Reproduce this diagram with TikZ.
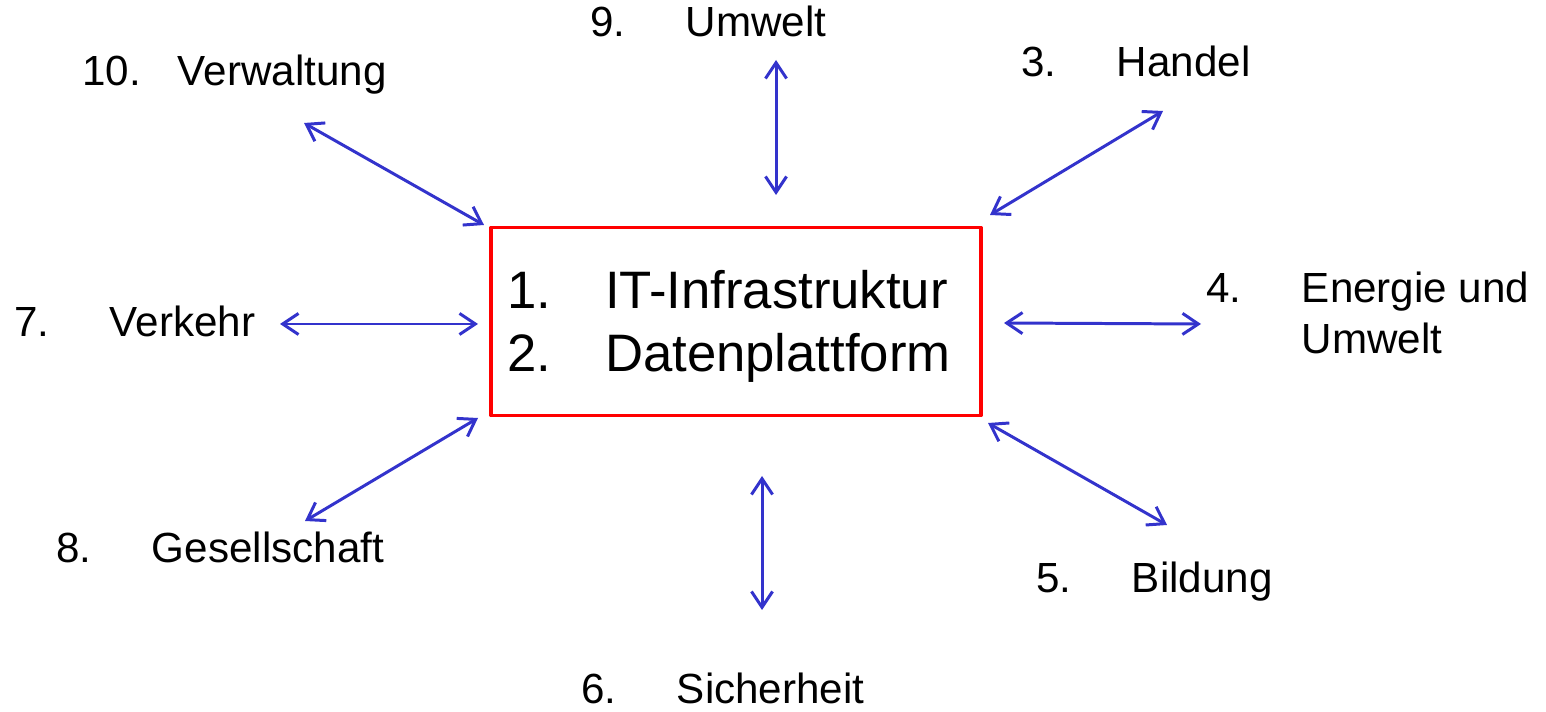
\documentclass[tikz,border=0pt]{standalone}
\usepackage{fontspec}
\setmainfont{Liberation Sans}
\usetikzlibrary{arrows.meta}
\definecolor{pfeilblau}{RGB}{51,51,204}
\newcommand\eintrag[2]{\makebox[54.4pt][l]{#1}#2}

\begin{document}
\begin{tikzpicture}[x=0.02cm,y=-0.02cm,line join=round,line cap=round,
	feld/.style={inner sep=0pt,anchor=base west,font=\fontsize{24}{28.5}\selectfont},
	pfeil/.style={draw=pfeilblau,line width=1.7pt,{Straight Barb[length=9pt,width=12pt]}-{Straight Barb[length=9pt,width=12pt]}},
	kern/.style={draw=red,line width=1.9pt,minimum width=9.8cm,minimum height=3.76cm,inner sep=0pt}]
	\useasboundingbox (0,0) rectangle (1546,712);
	\node[kern] (kern) at (736,321.5) {};
	\node[feld,font=\fontsize{30}{35.7}\selectfont] (liste) at (507,309)
		{\begin{tabular}[t]{@{}l@{}}\makebox[55.6pt][l]{1.}IT-Infrastruktur\\ \makebox[55.6pt][l]{2.}Datenplattform\end{tabular}};
	\node[feld] (umwelt) at (590,37) {\eintrag{9.}{Umwelt}};
	\node[feld] (verwaltung) at (82,86) {\eintrag{10.}{Verwaltung}};
	\node[feld] (handel) at (1021,77) {\eintrag{3.}{Handel}};
	\node[feld] (energie) at (1206,303) {\begin{tabular}[t]{@{}p{54.4pt}@{}l@{}}4. & Energie und\\ & Umwelt\end{tabular}};
	\node[feld] (verkehr) at (14,337) {\eintrag{7.}{Verkehr}};
	\node[feld] (gesellschaft) at (56,563) {\eintrag{8.}{Gesellschaft}};
	\node[feld] (bildung) at (1036,593) {\eintrag{5.}{Bildung}};
	\node[feld] (sicherheit) at (581,704) {\eintrag{6.}{Sicherheit}};
	\coordinate (umwelt-a) at (776,60);      \coordinate (umwelt-b) at (776,195);
	\coordinate (verwaltung-a) at (304,123); \coordinate (verwaltung-b) at (484,225);
	\coordinate (handel-a) at (1163,111);    \coordinate (handel-b) at (990,215);
	\coordinate (energie-a) at (1201,324);   \coordinate (energie-b) at (1004,323);
	\coordinate (verkehr-a) at (280,324);    \coordinate (verkehr-b) at (478,324);
	\coordinate (gesellschaft-a) at (305,521); \coordinate (gesellschaft-b) at (478,418);
	\coordinate (bildung-a) at (1167,525);   \coordinate (bildung-b) at (988,423);
	\coordinate (sicherheit-a) at (762,610); \coordinate (sicherheit-b) at (762,476);
	\draw[pfeil] (umwelt-a) -- (umwelt-b);
	\draw[pfeil] (verwaltung-a) -- (verwaltung-b);
	\draw[pfeil] (handel-a) -- (handel-b);
	\draw[pfeil] (energie-a) -- (energie-b);
	\draw[pfeil] (verkehr-a) -- (verkehr-b);
	\draw[pfeil] (gesellschaft-a) -- (gesellschaft-b);
	\draw[pfeil] (bildung-a) -- (bildung-b);
	\draw[pfeil] (sicherheit-a) -- (sicherheit-b);
\end{tikzpicture}
\end{document}
